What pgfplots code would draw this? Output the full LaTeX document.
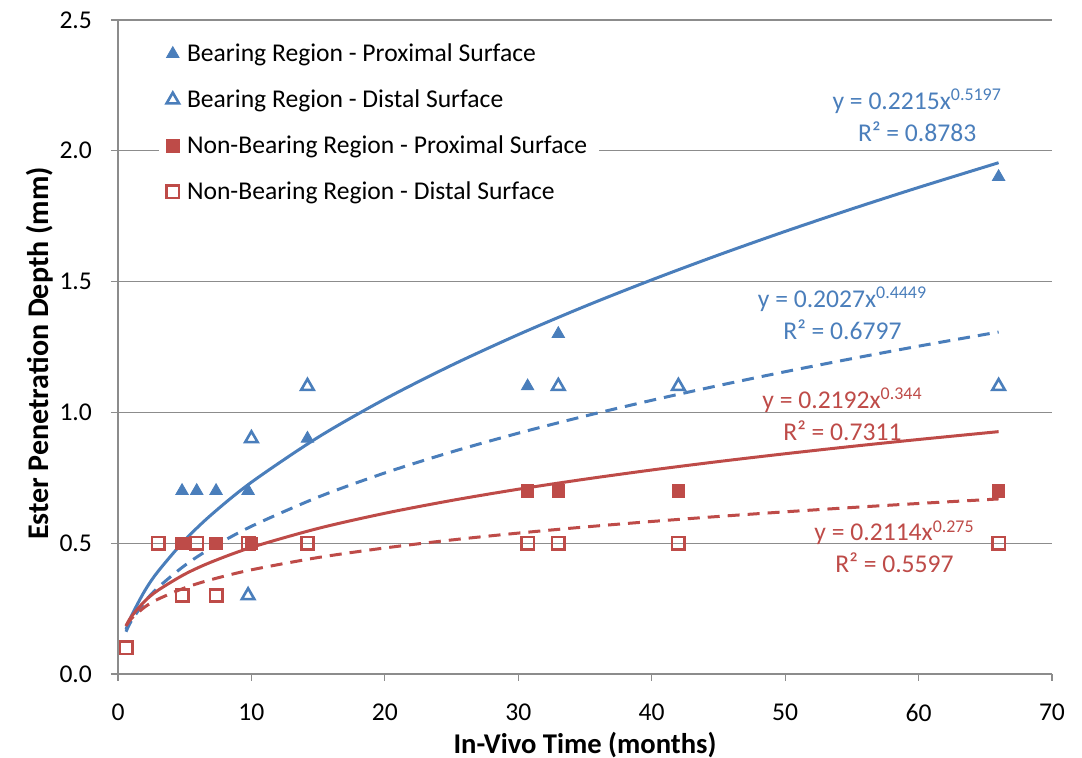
\documentclass[border=0pt]{standalone}
\usepackage{fontspec}
\setmainfont{Carlito}
\usepackage{pgfplots}
\pgfplotsset{compat=1.18}
\definecolor{xlblue}{HTML}{4A7EBB}
\definecolor{xlred}{HTML}{BE4B48}
\definecolor{gridgray}{HTML}{8C8C8C}
\begin{document}
\begin{tikzpicture}
\begin{axis}[
  scale only axis, width=467pt, height=327pt,
  xmin=0, xmax=70, ymin=0, ymax=2.5,
  xtick={0,10,...,70}, ytick={0,0.5,...,2.5},
  axis lines=left, axis line style={-, draw=gridgray, line width=0.6pt},
  tick align=outside, major tick length=3.5pt,
  tick style={draw=gridgray, line width=0.6pt},
  ymajorgrids, grid style={draw=gridgray, line width=0.6pt},
  tick label style={font=\fontsize{12.8}{15}\selectfont},
  /pgf/number format/assume math mode=true,
  yticklabel style={/pgf/number format/fixed, /pgf/number format/fixed zerofill, /pgf/number format/precision=1, xshift=-6pt},
  xticklabel style={yshift=-8pt},
  xlabel={In-Vivo Time (months)},
  ylabel={Ester Penetration Depth (mm)},
  every axis x label/.style={at={(axis description cs:0.5,-0.1086)}, anchor=center, font=\fontsize{14.3}{17}\selectfont\bfseries},
  every axis y label/.style={at={(axis description cs:-0.0835,0.49)}, anchor=center, rotate=90, font=\fontsize{15}{18}\selectfont\bfseries},
  legend style={at={(axis description cs:0.043,0.98)}, anchor=north west, draw=none, fill=white,
    font=\fontsize{12.8}{15}\selectfont, row sep=8.6pt, column sep=2pt, inner xsep=4pt, inner ysep=3pt},
  legend cell align=left,
  clip=false,
]
% Bearing Region - Proximal Surface
\addplot[only marks, mark=triangle*, mark size=3.6pt, color=xlblue] coordinates {
 (4.8,0.7) (5.9,0.7) (7.35,0.7) (9.75,0.7) (14.2,0.9) (30.7,1.1) (33.0,1.3) (66.0,1.9)};
\addlegendentry{Bearing Region - Proximal Surface}
% Bearing Region - Distal Surface
\addplot[only marks, mark=triangle, mark size=3.6pt, color=xlblue, mark options={line width=1.3pt}] coordinates {
 (9.75,0.3) (10.0,0.9) (14.2,1.1) (33.0,1.1) (42.0,1.1) (66.0,1.1)};
\addlegendentry{Bearing Region - Distal Surface}
% Non-Bearing Region - Proximal Surface
\addplot[only marks, mark=square*, mark size=3.1pt, color=xlred] coordinates {
 (4.8,0.5) (7.35,0.5) (10.0,0.5) (30.7,0.7) (33.0,0.7) (42.0,0.7) (66.0,0.7)};
\addlegendentry{Non-Bearing Region - Proximal Surface}
% Non-Bearing Region - Distal Surface
\addplot[only marks, mark=square, mark size=3.1pt, color=xlred, mark options={line width=1.3pt}] coordinates {
 (0.6,0.1) (3.0,0.5) (4.8,0.3) (5.9,0.5) (7.35,0.3) (9.75,0.5) (14.2,0.5) (30.7,0.5) (33.0,0.5) (42.0,0.5) (66.0,0.5)};
\addlegendentry{Non-Bearing Region - Distal Surface}
% Trend lines
\addplot[forget plot, color=xlblue, line width=1.5pt, smooth] coordinates {
 (0.6,0.1698) (1,0.2215) (2,0.3175) (3,0.3920) (5,0.5112) (7,0.6090) (10,0.7330) (15,0.9049) (20,1.0508) (25,1.1801) (30,1.2973) (35,1.4056) (40,1.5065) (45,1.6016) (50,1.6918) (55,1.7777) (60,1.8599) (66,1.9544)};
\addplot[forget plot, color=xlblue, line width=1.5pt, dash pattern=on 6pt off 4pt, smooth] coordinates {
 (0.6,0.1615) (1,0.2027) (2,0.2759) (3,0.3305) (5,0.4148) (7,0.4818) (10,0.5646) (15,0.6762) (20,0.7686) (25,0.8488) (30,0.9205) (35,0.9859) (40,1.0462) (45,1.1025) (50,1.1555) (55,1.2054) (60,1.2531) (66,1.3073)};
\addplot[forget plot, color=xlred, line width=1.5pt, smooth] coordinates {
 (0.6,0.1839) (1,0.2192) (2,0.2782) (3,0.3199) (5,0.3813) (7,0.4281) (10,0.4840) (15,0.5565) (20,0.6143) (25,0.6633) (30,0.7063) (35,0.7447) (40,0.7798) (45,0.8120) (50,0.8419) (55,0.8700) (60,0.8964) (66,0.9264)};
\addplot[forget plot, color=xlred, line width=1.5pt, dash pattern=on 6pt off 4pt, smooth] coordinates {
 (0.6,0.1837) (1,0.2114) (2,0.2558) (3,0.2860) (5,0.3291) (7,0.3610) (10,0.3982) (15,0.4452) (20,0.4818) (25,0.5123) (30,0.5386) (35,0.5620) (40,0.5830) (45,0.6022) (50,0.6199) (55,0.6364) (60,0.6518) (66,0.6691)};
% Equation labels
\node[font=\fontsize{12.8}{15}\selectfont, text=xlblue, align=center] at (axis cs:59.9,2.137)
  {y = 0.2215x\textsuperscript{0.5197}\\[1pt] R² = 0.8783};
\node[font=\fontsize{12.8}{15}\selectfont, text=xlblue, align=center] at (axis cs:54.3,1.378)
  {y = 0.2027x\textsuperscript{0.4449}\\[1pt] R² = 0.6797};
\node[font=\fontsize{12.8}{15}\selectfont, text=xlred, align=center] at (axis cs:54.3,0.994)
  {y = 0.2192x\textsuperscript{0.344}\\[1pt] R² = 0.7311};
\node[font=\fontsize{12.8}{15}\selectfont, text=xlred, align=center] at (axis cs:58.2,0.486)
  {y = 0.2114x\textsuperscript{0.275}\\[1pt] R² = 0.5597};
\end{axis}
\pgfresetboundingbox
\path[use as bounding box] ([shift={(-59pt,-42pt)}]current axis.south west) rectangle ([shift={(482pt,337pt)}]current axis.south west);
\end{tikzpicture}
\end{document}
